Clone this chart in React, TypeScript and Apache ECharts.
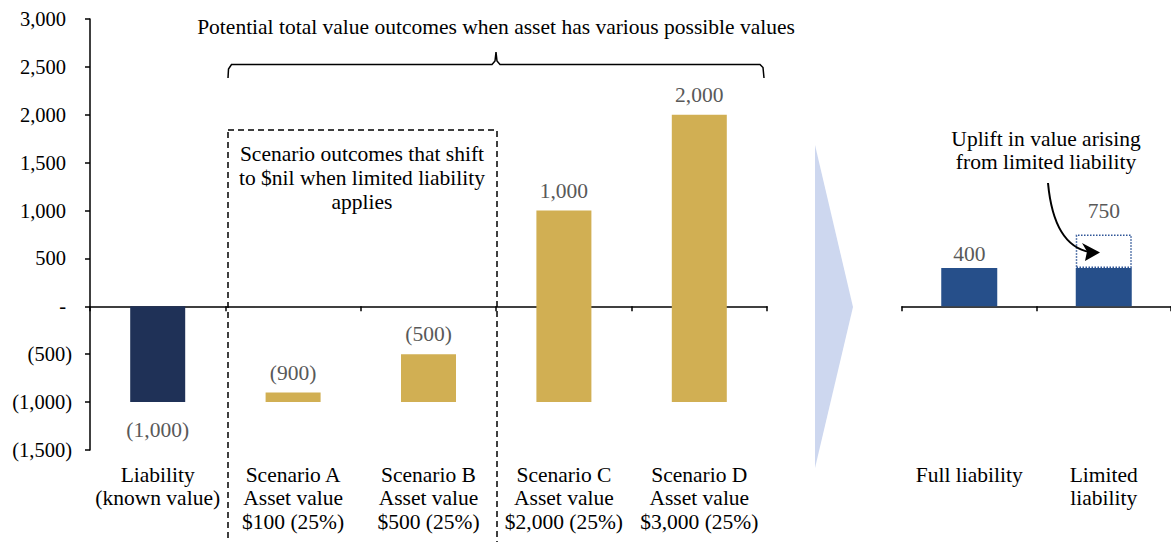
import React, { useEffect, useRef } from "react";
import * as echarts from "echarts";

// ---------- data ----------
const categories = [
  "Liability\n(known value)",
  "Scenario A\nAsset value\n$100 (25%)",
  "Scenario B\nAsset value\n$500 (25%)",
  "Scenario C\nAsset value\n$2,000 (25%)",
  "Scenario D\nAsset value\n$3,000 (25%)",
];
// where each bar starts (liability starts at 0, scenario bars start at the liability)
const barStarts = [0, -1000, -1000, -1000, -1000];
// where each bar ends (total value outcome)
const outcomeValues = [-1000, -900, -500, 1000, 2000];

const compareCategories = ["Full liability", "Limited\nliability"];
const solidValues = [400, 400];
const totalValues = [400, 750];

const yMin = -1500;
const yMax = 3000;
const yInterval = 500;

// ---------- helpers ----------
const FONT = '"Liberation Serif", "Times New Roman", serif';
const FS = 21.5;
const fmtNum = (v: number) =>
  Math.abs(v).toLocaleString("en-US", { maximumFractionDigits: 0 });
const fmtAcct = (v: number) => (v < 0 ? `(${fmtNum(v)})` : fmtNum(v));

const NAVY = "#1F3157";
const GOLD = "#D1AF53";
const BLUE = "#264F8A";
const LABEL_GREY = "#595959";

export default function App() {
  const ref = useRef<HTMLDivElement>(null);

  useEffect(() => {
    if (!ref.current) return;
    const chart = echarts.init(ref.current, undefined, { renderer: "svg" });

    const deltas = outcomeValues.map((v, i) => v - barStarts[i]);
    const uplift = totalValues.map((v, i) => (v - solidValues[i] > 0 ? v - solidValues[i] : "-"));

    const valueAxisBase = {
      type: "value" as const,
      min: yMin,
      max: yMax,
      interval: yInterval,
      splitLine: { show: false },
    };

    const catLabel = {
      margin: 13,
      fontSize: FS,
      lineHeight: 23.5,
      color: "#000",
      fontFamily: FONT,
      interval: 0,
    };

    const option: any = {
      animation: false,
      textStyle: { fontFamily: FONT },
      grid: [
        { left: 90, top: 19, width: 677, height: 431 },
        { left: 902, top: 19, width: 270, height: 431 },
      ],
      yAxis: [
        {
          ...valueAxisBase,
          gridIndex: 0,
          axisLine: { show: true, lineStyle: { color: "#000", width: 1.5 } },
          axisTick: { show: true, length: 5, lineStyle: { color: "#000", width: 1.5 } },
          axisLabel: {
            margin: 18,
            fontSize: 20.5,
            color: "#000",
            fontFamily: FONT,
            formatter: (v: number) =>
              v === 0 ? "{p|-}" : v < 0 ? `{n|(${fmtNum(v)})}` : `{p|${fmtNum(v)}}`,
            rich: {
              p: { fontSize: 20.5, fontFamily: FONT, color: "#000", padding: [0, 6, 0, 0] },
              n: { fontSize: 20.5, fontFamily: FONT, color: "#000" },
            },
          },
        },
        {
          ...valueAxisBase,
          gridIndex: 1,
          axisLine: { show: false },
          axisTick: { show: false },
          axisLabel: { show: false },
        },
      ],
      xAxis: [
        {
          type: "category",
          gridIndex: 0,
          data: categories,
          position: "bottom",
          axisLine: { onZero: true, lineStyle: { color: "#000", width: 1.5 } },
          axisTick: { show: true, length: 5, lineStyle: { color: "#000", width: 1.5 } },
          axisLabel: { show: false },
        },
        {
          type: "category",
          gridIndex: 0,
          data: categories,
          position: "bottom",
          axisLine: { show: false, onZero: false },
          axisTick: { show: false },
          axisLabel: catLabel,
        },
        {
          type: "category",
          gridIndex: 1,
          data: compareCategories,
          position: "bottom",
          axisLine: { onZero: true, lineStyle: { color: "#000", width: 1.5 } },
          axisTick: { show: true, length: 5, lineStyle: { color: "#000", width: 1.5 } },
          axisLabel: { show: false },
        },
        {
          type: "category",
          gridIndex: 1,
          data: compareCategories,
          position: "bottom",
          axisLine: { show: false, onZero: false },
          axisTick: { show: false },
          axisLabel: catLabel,
        },
      ],
      series: [
        {
          name: "base",
          type: "bar",
          xAxisIndex: 0,
          yAxisIndex: 0,
          stack: "waterfall",
          stackStrategy: "all",
          barWidth: 55,
          itemStyle: { color: "transparent" },
          emphasis: { disabled: true },
          silent: true,
          data: barStarts,
        },
        {
          name: "outcome",
          type: "bar",
          xAxisIndex: 0,
          yAxisIndex: 0,
          stack: "waterfall",
          stackStrategy: "all",
          barWidth: 55,
          data: deltas.map((d, i) => ({
            value: d,
            itemStyle: { color: i === 0 ? NAVY : GOLD },
            label: {
              position: i === 0 ? "bottom" : "top",
              distance: i === 0 ? 17 : 9,
            },
          })),
          label: {
            show: true,
            fontSize: FS,
            color: LABEL_GREY,
            fontFamily: FONT,
            formatter: (p: any) => fmtAcct(outcomeValues[p.dataIndex]),
          },
        },
        {
          name: "full",
          type: "bar",
          xAxisIndex: 2,
          yAxisIndex: 1,
          stack: "compare",
          barWidth: 56,
          itemStyle: { color: BLUE },
          data: solidValues.map((v, i) => ({
            value: v,
            label: { show: totalValues[i] === v },
          })),
          label: {
            show: true,
            position: "top",
            distance: 3,
            fontSize: FS,
            color: LABEL_GREY,
            fontFamily: FONT,
          },
        },
        {
          name: "uplift",
          type: "bar",
          xAxisIndex: 2,
          yAxisIndex: 1,
          stack: "compare",
          barWidth: 56,
          itemStyle: {
            color: "#fff",
            borderColor: "#2F5597",
            borderWidth: 1.5,
            borderType: "dotted",
          },
          data: uplift,
          label: {
            show: true,
            position: "top",
            distance: 13,
            fontSize: FS,
            color: LABEL_GREY,
            fontFamily: FONT,
            formatter: (p: any) => fmtAcct(totalValues[p.dataIndex]),
          },
        },
      ],
      graphic: [
        {
          type: "text",
          x: 496,
          y: 16,
          style: {
            text: "Potential total value outcomes when asset has various possible values",
            font: `${FS}px ${FONT}`,
            fill: "#000",
            align: "center",
          },
        },
        {
          type: "polyline",
          shape: {
            points: [
              [228, 78], [228.5, 69], [231.5, 64.5], [492, 64.5], [495, 61], [496, 52],
              [497, 61], [500, 64.5], [760, 64.5], [763, 67.5], [764, 78],
            ],
          },
          style: { stroke: "#000", lineWidth: 1.5, fill: "none" },
        },
        {
          type: "rect",
          shape: { x: 228, y: 130, width: 269, height: 430 },
          style: { stroke: "#000", fill: "none", lineWidth: 1.5, lineDash: [6, 4] },
          z: 10,
        },
        {
          type: "text",
          x: 362,
          y: 142,
          style: {
            text: "Scenario outcomes that shift\nto $nil when limited liability\napplies",
            font: `${FS}px ${FONT}`,
            lineHeight: 24,
            fill: "#000",
            align: "center",
          },
        },
        {
          type: "polygon",
          shape: { points: [[815, 145], [853, 307], [815, 468]] },
          style: { fill: "#CDD7EF" },
        },
        {
          type: "text",
          x: 1046,
          y: 127,
          style: {
            text: "Uplift in value arising\nfrom limited liability",
            font: `${FS}px ${FONT}`,
            lineHeight: 23.5,
            fill: "#000",
            align: "center",
          },
        },
        {
          type: "bezierCurve",
          shape: { x1: 1048, y1: 183, cpx1: 1052, cpy1: 226, cpx2: 1066, cpy2: 248, x2: 1090, y2: 252 },
          style: { stroke: "#000", lineWidth: 2, fill: "none" },
          z: 20,
        },
        {
          type: "polygon",
          shape: { points: [[1100, 252.5], [1082, 243], [1087, 251.5], [1085, 261]] },
          style: { fill: "#000" },
          z: 20,
        },
      ],
    };

    chart.setOption(option);
    return () => chart.dispose();
  }, []);

  return (
    <div
      ref={ref}
      style={{ position: "absolute", left: 0, top: 0, width: 1171, height: 542 }}
    />
  );
}
